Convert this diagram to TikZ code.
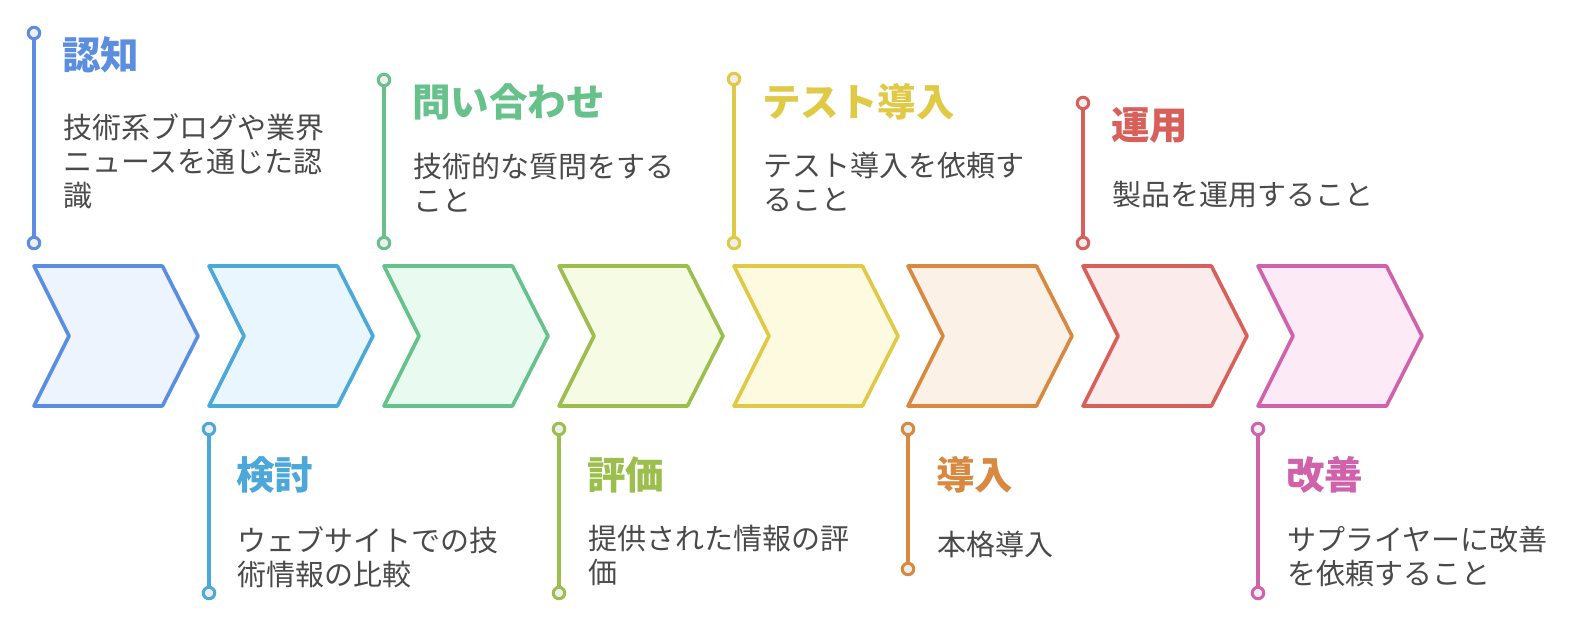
\documentclass[tikz,border=0pt]{standalone}
\usepackage{fontspec}
\setmainfont{Noto Sans CJK JP}
\usepackage{tikz}
\definecolor{cBlue}{HTML}{5B8DE0}
\definecolor{fBlue}{HTML}{EEF4FE}
\definecolor{cCyan}{HTML}{4BA8D8}
\definecolor{fCyan}{HTML}{E9F6FD}
\definecolor{cGreen}{HTML}{66C28A}
\definecolor{fGreen}{HTML}{E9FBF1}
\definecolor{cOlive}{HTML}{9BBE4C}
\definecolor{fOlive}{HTML}{F6FCE3}
\definecolor{cYellow}{HTML}{E0CA45}
\definecolor{fYellow}{HTML}{FEFADF}
\definecolor{cOrange}{HTML}{D9893F}
\definecolor{fOrange}{HTML}{FCF1E6}
\definecolor{cRed}{HTML}{D9605A}
\definecolor{fRed}{HTML}{FCEBEB}
\definecolor{cPink}{HTML}{D062AC}
\definecolor{fPink}{HTML}{FCEAF6}
\definecolor{pinfill}{HTML}{EEEEEE}
\definecolor{bodygrey}{HTML}{4A4A4A}
\tikzset{chev/.style 2 args={draw=#1, fill=#2, line width=3.6pt, line join=round}}
\tikzset{pin/.style={circle, draw=#1, fill=pinfill, line width=3pt, inner sep=0pt, minimum size=11.5pt}}
\tikzset{stem/.style={draw=#1, line width=3.4pt}}
\tikzset{head/.style={text=#1, anchor=west, inner sep=0pt, font=\fontsize{38.5}{42}\selectfont\bfseries}}
\tikzset{body/.style={text=bodygrey, anchor=north west, inner sep=0pt, align=left, font=\fontsize{29}{34}\selectfont}}
\begin{document}
\begin{tikzpicture}[x=1pt, y=-1pt]
\useasboundingbox (0,0) rectangle (1596,640);

\draw[chev={cBlue}{fBlue}] (34,266) -- ++(128.4,0) -- ++(35.6,70) -- ++(-35.6,70) -- ++(-128.4,0) -- ++(35,-70) -- cycle;
\draw[chev={cCyan}{fCyan}] (209,266) -- ++(128.4,0) -- ++(35.6,70) -- ++(-35.6,70) -- ++(-128.4,0) -- ++(35,-70) -- cycle;
\draw[chev={cGreen}{fGreen}] (384,266) -- ++(128.4,0) -- ++(35.6,70) -- ++(-35.6,70) -- ++(-128.4,0) -- ++(35,-70) -- cycle;
\draw[chev={cOlive}{fOlive}] (559,266) -- ++(128.4,0) -- ++(35.6,70) -- ++(-35.6,70) -- ++(-128.4,0) -- ++(35,-70) -- cycle;
\draw[chev={cYellow}{fYellow}] (734,266) -- ++(128.4,0) -- ++(35.6,70) -- ++(-35.6,70) -- ++(-128.4,0) -- ++(35,-70) -- cycle;
\draw[chev={cOrange}{fOrange}] (908,266) -- ++(128.4,0) -- ++(35.6,70) -- ++(-35.6,70) -- ++(-128.4,0) -- ++(35,-70) -- cycle;
\draw[chev={cRed}{fRed}] (1083,266) -- ++(128.4,0) -- ++(35.6,70) -- ++(-35.6,70) -- ++(-128.4,0) -- ++(35,-70) -- cycle;
\draw[chev={cPink}{fPink}] (1258,266) -- ++(128.4,0) -- ++(35.6,70) -- ++(-35.6,70) -- ++(-128.4,0) -- ++(35,-70) -- cycle;

\node [pin=cBlue] (ninchiT) at (34,33) {};
\node [pin=cBlue] (ninchiB) at (34,243) {};
\draw[stem=cBlue] (ninchiT) -- (ninchiB);
\node [head=cBlue] (ninchi) at (62,55) {認知};
\node [body] (ninchiD) at (63,113) {技術系ブログや業界\\ニュースを通じた認\\識};

\node [pin=cCyan] (kentoT) at (209,429) {};
\node [pin=cCyan] (kentoB) at (209,593) {};
\draw[stem=cCyan] (kentoT) -- (kentoB);
\node [head=cCyan] (kento) at (236,475) {検討};
\node [body] (kentoD) at (237,526) {ウェブサイトでの技\\術情報の比較};

\node [pin=cGreen] (toiT) at (384,80) {};
\node [pin=cGreen] (toiB) at (384,243) {};
\draw[stem=cGreen] (toiT) -- (toiB);
\node [head=cGreen] (toi) at (412,102) {問い合わせ};
\node [body] (toiD) at (413,153) {技術的な質問をする\\こと};

\node [pin=cOlive] (hyokaT) at (559,429) {};
\node [pin=cOlive] (hyokaB) at (559,593) {};
\draw[stem=cOlive] (hyokaT) -- (hyokaB);
\node [head=cOlive] (hyoka) at (587,475) {評価};
\node [body] (hyokaD) at (588,525) {提供された情報の評\\価};

\node [pin=cYellow] (testT) at (734,79) {};
\node [pin=cYellow] (testB) at (734,243) {};
\draw[stem=cYellow] (testT) -- (testB);
\node [head=cYellow] (test) at (762,102) {テスト導入};
\node [body] (testD) at (763,152) {テスト導入を依頼す\\ること};

\node [pin=cOrange] (donyuT) at (908,429) {};
\node [pin=cOrange] (donyuB) at (908,569) {};
\draw[stem=cOrange] (donyuT) -- (donyuB);
\node [head=cOrange] (donyu) at (936,475) {導入};
\node [body] (donyuD) at (937,531) {本格導入};

\node [pin=cRed] (unyoT) at (1083,103) {};
\node [pin=cRed] (unyoB) at (1083,243) {};
\draw[stem=cRed] (unyoT) -- (unyoB);
\node [head=cRed] (unyo) at (1111,125) {運用};
\node [body] (unyoD) at (1112,181) {製品を運用すること};

\node [pin=cPink] (kaizenT) at (1258,429) {};
\node [pin=cPink] (kaizenB) at (1258,593) {};
\draw[stem=cPink] (kaizenT) -- (kaizenB);
\node [head=cPink] (kaizen) at (1286,475) {改善};
\node [body] (kaizenD) at (1287,526) {サプライヤーに改善\\を依頼すること};
\end{tikzpicture}
\end{document}
